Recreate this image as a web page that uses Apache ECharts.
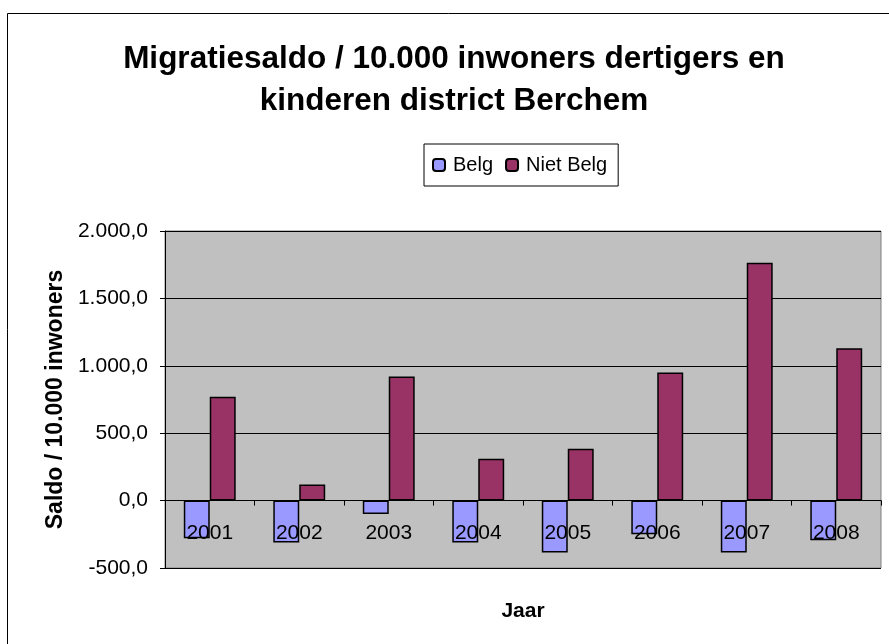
<!DOCTYPE html>
<html>
<head>
<meta charset="utf-8">
<script src="https://cdn.jsdelivr.net/npm/echarts@6/dist/echarts.min.js"></script>
<style>
  html, body { margin: 0; padding: 0; background: #fff; }
  #chart { width: 889px; height: 644px; }
</style>
</head>
<body>
<div id="chart"></div>
<script>
const years = ['2001', '2002', '2003', '2004', '2005', '2006', '2007', '2008']
const belg = [-280, -310, -100, -310, -385, -250, -385, -295]
const nietBelg = [770, 120, 920, 310, 385, 950, 1765, 1130]

// Dutch number format: 2.000,0
const fmt = v => {
  const s = Math.abs(v).toFixed(1).split('.')
  const int = s[0].replace(/\B(?=(\d{3})+(?!\d))/g, '.')
  return (v < 0 ? '-' : '') + int + ',' + s[1]
}

const chart = echarts.init(document.getElementById('chart'))
chart.setOption({
  animation: false,
  textStyle: { fontFamily: 'Liberation Sans, Arial, sans-serif' },
  title: {
    text: 'Migratiesaldo / 10.000 inwoners dertigers en\nkinderen district Berchem',
    left: 449, top: 33, textAlign: 'center',
    textStyle: { fontSize: 31.5, fontWeight: 'bold', color: '#000', lineHeight: 42 },
  },
  legend: {
    left: 424, top: 144,
    padding: [11, 11, 11, 8],
    borderColor: '#000', borderWidth: 1,
    itemWidth: 12, itemHeight: 12, itemGap: 12,
    textStyle: { fontSize: 20, color: '#000', padding: [0, 0, 0, 3] },
    data: ['Belg', 'Niet Belg'],
  },
  grid: {
    left: 165, right: 8, top: 231, bottom: 76,
    outerBoundsMode: 'none', containLabel: false,
    show: true, backgroundColor: '#C0C0C0', borderColor: '#808080', borderWidth: 1,
  },
  xAxis: {
    type: 'category', data: years, z: 5,
    // axis sits on the 0 line (2000 of 2500 units down a 337px grid)
    offset: -67.4,
    name: 'Jaar', nameLocation: 'middle', nameGap: 100,
    nameTextStyle: { fontSize: 21, fontWeight: 'bold', color: '#000' },
    axisLine: { onZero: false, lineStyle: { color: '#000', width: 1 } },
    axisTick: { show: true, alignWithLabel: false, length: 5, lineStyle: { color: '#000' } },
    axisLabel: { fontSize: 21, color: '#000', margin: 22 },
  },
  yAxis: {
    type: 'value', min: -500, max: 2000, interval: 500,
    name: 'Saldo / 10.000 inwoners', nameLocation: 'middle', nameGap: 98, nameRotate: 90,
    nameTextStyle: { fontSize: 23, fontWeight: 'bold', color: '#000' },
    axisLine: { show: true, lineStyle: { color: '#000' } },
    axisTick: { show: true, length: 5, lineStyle: { color: '#000' } },
    axisLabel: { fontSize: 21, color: '#000', margin: 17, formatter: fmt },
    splitLine: { show: true, lineStyle: { color: '#000', width: 1 } },
  },
  series: [
    {
      name: 'Belg', type: 'bar', data: belg, barGap: '0%', barCategoryGap: '42%',
      itemStyle: { color: '#9999FF', borderColor: '#000', borderWidth: 1.5 },
    },
    {
      name: 'Niet Belg', type: 'bar', data: nietBelg, barGap: '0%', barCategoryGap: '42%',
      itemStyle: { color: '#993366', borderColor: '#000', borderWidth: 1.5 },
    },
  ],
  graphic: [{
    type: 'rect', z: 100, silent: true,
    shape: { x: 7.5, y: 13.5, width: 900, height: 700 },
    style: { fill: null, stroke: '#000', lineWidth: 1 },
  }],
})
</script>
</body>
</html>
